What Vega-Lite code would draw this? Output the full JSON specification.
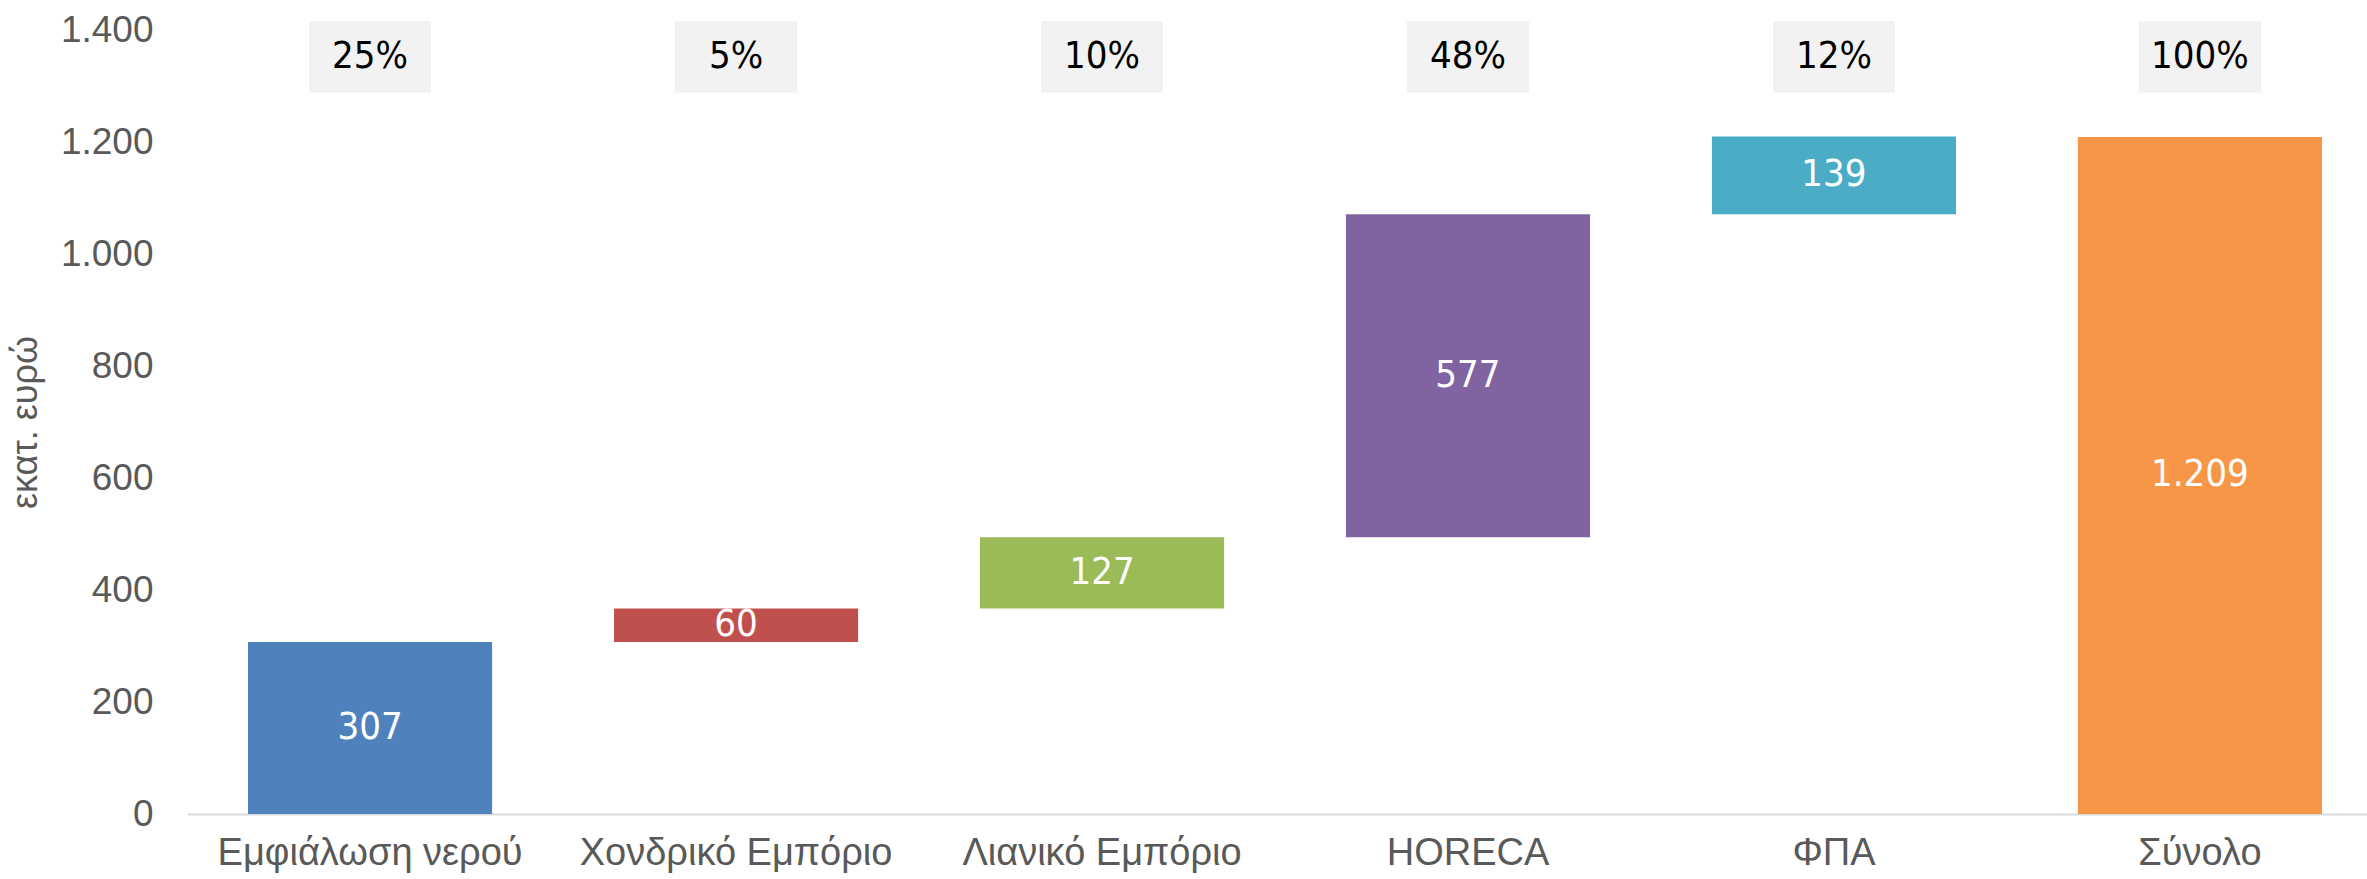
{
  "$schema": "https://vega.github.io/schema/vega-lite/v6.json",
  "width": 2196,
  "height": 784,
  "autosize": {"type": "none"},
  "padding": {"left": 187, "top": 30, "right": 0, "bottom": 65},
  "config": {
    "view": {"stroke": null},
    "font": "Liberation Sans",
    "locale": {"number": {"decimal": ",", "thousands": ".", "grouping": [3], "currency": ["", "€"]}}
  },
  "data": {
    "values": [
      {"cat": "Εμφιάλωση νερού", "start": 0, "end": 307, "value": 307, "pct": "25%"},
      {"cat": "Χονδρικό Εμπόριο", "start": 307, "end": 367, "value": 60, "pct": "5%"},
      {"cat": "Λιανικό Εμπόριο", "start": 367, "end": 494, "value": 127, "pct": "10%"},
      {"cat": "HORECA", "start": 494, "end": 1071, "value": 577, "pct": "48%"},
      {"cat": "ΦΠΑ", "start": 1071, "end": 1210, "value": 139, "pct": "12%"},
      {"cat": "Σύνολο", "start": 0, "end": 1209, "value": 1209, "pct": "100%"}
    ]
  },
  "transform": [{"calculate": "(datum.start + datum.end) / 2", "as": "mid"}],
  "encoding": {
    "x": {
      "field": "cat",
      "type": "nominal",
      "sort": null,
      "scale": {"paddingInner": 0.333, "paddingOuter": 0.1667},
      "axis": {
        "title": null,
        "labelAngle": 0,
        "labelFontSize": 38,
        "labelLimit": 0,
        "labelColor": "#595959",
        "labelPadding": 20,
        "ticks": false,
        "domainColor": "#d9d9d9",
        "domainWidth": 2,
        "grid": false
      }
    }
  },
  "layer": [
    {
      "mark": {"type": "bar"},
      "encoding": {
        "y": {
          "field": "start",
          "type": "quantitative",
          "scale": {"domain": [0, 1400], "nice": false},
          "title": "εκατ. ευρώ",
          "axis": {
            "values": [0, 200, 400, 600, 800, 1000, 1200, 1400],
            "format": ",d",
            "grid": false,
            "domain": false,
            "ticks": false,
            "labelPadding": 34,
            "labelFontSize": 37,
            "labelColor": "#595959",
            "titleFontSize": 36,
            "titleColor": "#595959",
            "titleFontWeight": "normal",
            "titlePadding": 16
          }
        },
        "y2": {"field": "end"},
        "color": {
          "field": "cat",
          "type": "nominal",
          "sort": null,
          "scale": {
            "domain": ["Εμφιάλωση νερού", "Χονδρικό Εμπόριο", "Λιανικό Εμπόριο", "HORECA", "ΦΠΑ", "Σύνολο"],
            "range": ["#4f81bd", "#c0504d", "#9bbb59", "#8064a2", "#4bacc6", "#f79646"]
          },
          "legend": null
        }
      }
    },
    {
      "mark": {"type": "text", "color": "white", "fontSize": 38, "font": "DejaVu Sans Condensed", "baseline": "middle"},
      "encoding": {
        "y": {"field": "mid", "type": "quantitative"},
        "text": {"field": "value", "type": "quantitative", "format": ",d"}
      }
    },
    {
      "mark": {"type": "bar", "color": "#f2f2f2", "width": {"band": 0.5}},
      "encoding": {
        "y": {"datum": 1288},
        "y2": {"datum": 1416}
      }
    },
    {
      "mark": {"type": "text", "color": "black", "fontSize": 38, "font": "DejaVu Sans Condensed", "baseline": "middle"},
      "encoding": {
        "y": {"datum": 1352},
        "text": {"field": "pct", "type": "nominal"}
      }
    }
  ]
}
